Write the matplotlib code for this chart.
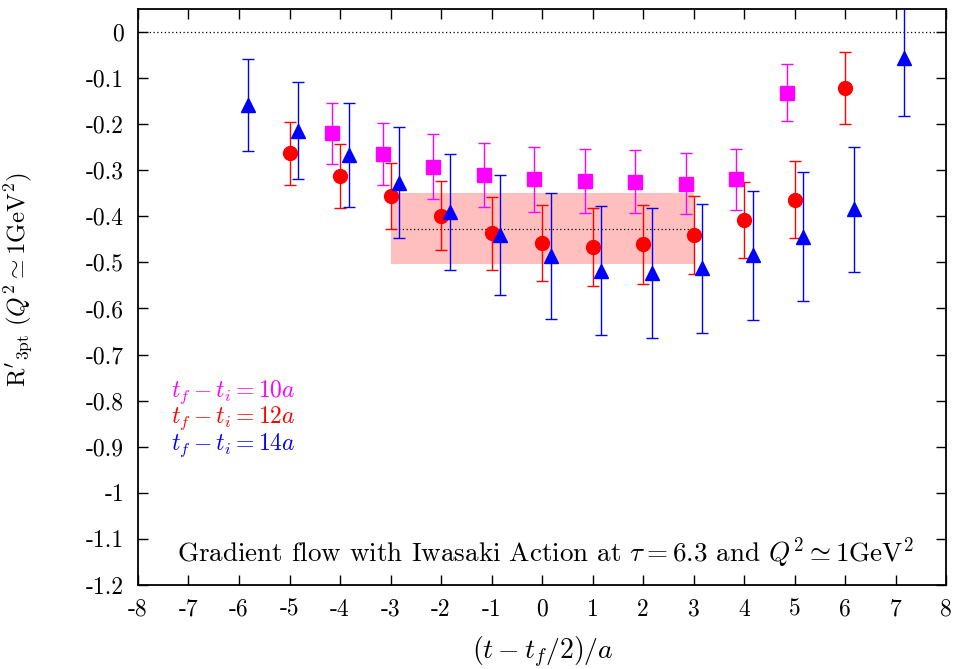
import numpy as np
import matplotlib
matplotlib.use("Agg")
import matplotlib.pyplot as plt
from matplotlib.ticker import FixedLocator, FuncFormatter

plt.rcParams["font.family"] = ["cmr10", "DejaVu Serif"]
plt.rcParams["mathtext.fontset"] = "cm"
plt.rcParams["axes.formatter.use_mathtext"] = True

# data
t10 = np.array([-4, -3, -2, -1, 0, 1, 2, 3, 4, 5])
r10 = np.array([-0.220, -0.264, -0.292, -0.310, -0.320, -0.323, -0.325, -0.329, -0.320, -0.132])
e10 = np.array([0.066, 0.067, 0.070, 0.070, 0.070, 0.070, 0.068, 0.066, 0.067, 0.062])

t12 = np.array([-5, -4, -3, -2, -1, 0, 1, 2, 3, 4, 5, 6])
r12 = np.array([-0.263, -0.312, -0.356, -0.399, -0.437, -0.458, -0.466, -0.461, -0.440, -0.408, -0.364, -0.121])
e12 = np.array([0.068, 0.069, 0.071, 0.075, 0.080, 0.083, 0.085, 0.085, 0.085, 0.083, 0.083, 0.078])

t14 = np.array([-6, -5, -4, -3, -2, -1, 0, 1, 2, 3, 4, 5, 6, 7])
r14 = np.array([-0.158, -0.214, -0.266, -0.327, -0.390, -0.441, -0.486, -0.518, -0.523, -0.513, -0.485, -0.444, -0.385, -0.057])
e14 = np.array([0.100, 0.105, 0.113, 0.120, 0.126, 0.130, 0.137, 0.140, 0.140, 0.140, 0.139, 0.140, 0.135, 0.125])

# plateau fit
fit_range = [-3, 3]
fit_val = -0.427
fit_lo, fit_hi = -0.503, -0.350

labels = [r"$t_f - t_i = 10a$", r"$t_f - t_i = 12a$", r"$t_f - t_i = 14a$"]
colors = ["#ff00ff", "#ff0000", "#0000ff"]

fig = plt.figure(figsize=(9.55, 6.69), dpi=100)
ax = fig.add_axes([0.1445, 0.1256, 0.8461, 0.861])

ax.axhline(0, color="black", ls=(0, (1, 2)), lw=0.9)
ax.fill_between(fit_range, fit_lo, fit_hi, color="#ffbfbf", lw=0, zorder=1)
ax.plot(fit_range, [fit_val, fit_val], color="black", ls=(0, (1, 2)), lw=0.9, zorder=2)

ax.errorbar(t10 - 0.15, r10, yerr=e10, fmt="s", ms=10, color=colors[0],
            elinewidth=1, capsize=4, capthick=1, zorder=3)
ax.errorbar(t12, r12, yerr=e12, fmt="o", ms=10, color=colors[1],
            elinewidth=1, capsize=4, capthick=1, zorder=3)
ax.errorbar(t14 + 0.17, r14, yerr=e14, fmt="^", ms=10, color=colors[2],
            elinewidth=1, capsize=4, capthick=1, zorder=3)

ax.set_xlim(-8, 8)
ax.set_ylim(-1.2, 0.05)
ax.xaxis.set_major_locator(FixedLocator(np.arange(-8, 9)))
ax.yaxis.set_major_locator(FixedLocator(np.round(np.arange(-1.2, 0.01, 0.1), 1)))
ax.xaxis.set_major_formatter(FuncFormatter(lambda v, p: f"{v:g}".replace("\u2212", "-")))
ax.yaxis.set_major_formatter(FuncFormatter(lambda v, p: f"{round(v, 1):g}".replace("\u2212", "-")))
ax.tick_params(direction="in", length=7, width=1, top=True, right=True,
               labelsize=17, pad=10)
for s in ax.spines.values():
    s.set_linewidth(1.3)

ax.set_xlabel(r"$(t - t_f/2)/a$", fontsize=20)
ax.xaxis.set_label_coords(0.501, -0.086)
ax.set_ylabel(r"$\mathrm{R}'_{\mathrm{3pt}}\ (Q^2 \simeq 1\mathrm{GeV}^2)$", fontsize=18)
ax.yaxis.set_label_coords(-0.127, 0.53)

for i, (lab, c) in enumerate(zip(labels, colors)):
    ax.text(-7.35, -0.781 - 0.0575 * i, lab, color=c, fontsize=17, va="center", ha="left")

ax.text(0.06, -1.13, r"Gradient flow with Iwasaki Action at $\tau = 6.3$ and $Q^2 \simeq 1\mathrm{GeV}^2$",
        fontsize=19.5, ha="center", va="center")

fig.savefig("out.png", dpi=100)
